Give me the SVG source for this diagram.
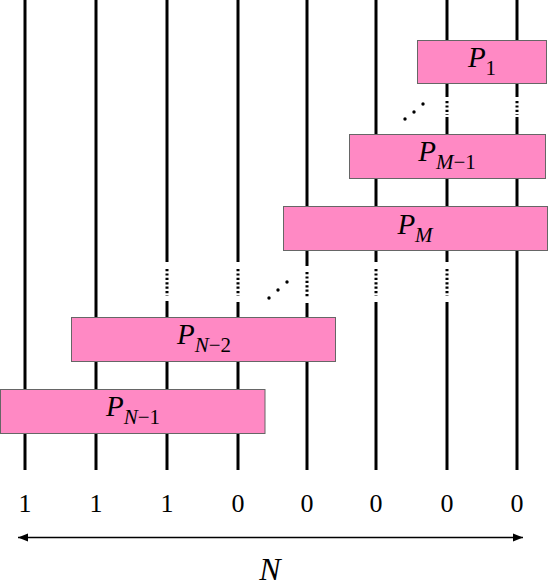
<svg xmlns="http://www.w3.org/2000/svg" width="548" height="587" viewBox="0 0 548 587">
<style>
.w{stroke:#000;stroke-width:3;fill:none}
.d{stroke:#000;stroke-width:3;fill:none;stroke-dasharray:2.2 2.2}
.box{fill:#ff89c4;stroke:#666;stroke-width:1}
.lbl{font-family:"Liberation Serif","Times New Roman",serif;font-size:29px;fill:#000;text-anchor:middle}
.it{font-style:italic}
.sub{font-size:21px}
.num{font-family:"Liberation Serif","Times New Roman",serif;font-size:26px;fill:#000;text-anchor:middle}
</style>
<defs>
<marker id="ah" markerUnits="userSpaceOnUse" markerWidth="12" markerHeight="10" refX="10" refY="5" orient="auto-start-reverse">
<path d="M0,1 L10,5 L0,9 Z" fill="#000"/>
</marker>
</defs>
<g id="wires">
<line class="w" x1="25" y1="0" x2="25" y2="470"/>
<line class="w" x1="96" y1="0" x2="96" y2="470"/>
<line class="w" x1="167" y1="0" x2="167" y2="262"/>
<line class="d" x1="167" y1="269" x2="167" y2="296"/>
<line class="w" x1="167" y1="301" x2="167" y2="470"/>
<line class="w" x1="238" y1="0" x2="238" y2="262"/>
<line class="d" x1="238" y1="269" x2="238" y2="296"/>
<line class="w" x1="238" y1="302" x2="238" y2="470"/>
<line class="w" x1="307" y1="0" x2="307" y2="266"/>
<line class="d" x1="307" y1="272" x2="307" y2="297"/>
<line class="w" x1="307" y1="303" x2="307" y2="470"/>
<line class="w" x1="376" y1="0" x2="376" y2="262"/>
<line class="d" x1="376" y1="269" x2="376" y2="296"/>
<line class="w" x1="376" y1="302" x2="376" y2="470"/>
<line class="w" x1="447" y1="0" x2="447" y2="97"/>
<line class="d" x1="447" y1="101" x2="447" y2="115"/>
<line class="w" x1="447" y1="117" x2="447" y2="262"/>
<line class="d" x1="447" y1="269" x2="447" y2="296"/>
<line class="w" x1="447" y1="302" x2="447" y2="470"/>
<line class="w" x1="517" y1="0" x2="517" y2="97"/>
<line class="d" x1="517" y1="101" x2="517" y2="115"/>
<line class="w" x1="517" y1="117" x2="517" y2="470"/>
<circle cx="405" cy="119" r="1.7"/>
<circle cx="414" cy="112" r="1.7"/>
<circle cx="423" cy="104" r="1.7"/>
<circle cx="269" cy="298" r="1.7"/>
<circle cx="278" cy="290" r="1.7"/>
<circle cx="287" cy="282" r="1.7"/>
</g>
<g id="P1">
<rect class="box" x="417.5" y="40.5" width="129" height="43"/>
<text class="lbl" x="482" y="67"><tspan class="it">P</tspan><tspan class="sub" dy="8">1</tspan></text>
</g>
<g id="PM-1">
<rect class="box" x="349.5" y="134.5" width="196" height="44"/>
<text class="lbl" x="447" y="161"><tspan class="it">P</tspan><tspan class="sub" dy="8"><tspan class="it">M</tspan>−1</tspan></text>
</g>
<g id="PM">
<rect class="box" x="283.5" y="206.5" width="264" height="44"/>
<text class="lbl" x="415" y="234"><tspan class="it">P</tspan><tspan class="sub it" dy="8">M</tspan></text>
</g>
<g id="PN-2">
<rect class="box" x="71.5" y="317.5" width="264" height="44"/>
<text class="lbl" x="204" y="344"><tspan class="it">P</tspan><tspan class="sub" dy="8"><tspan class="it">N</tspan>−2</tspan></text>
</g>
<g id="PN-1">
<rect class="box" x="0.5" y="389.5" width="264.5" height="44"/>
<text class="lbl" x="133" y="416"><tspan class="it">P</tspan><tspan class="sub" dy="8"><tspan class="it">N</tspan>−1</tspan></text>
</g>
<g id="bits">
<text class="num" x="25" y="512">1</text>
<text class="num" x="96" y="512">1</text>
<text class="num" x="167" y="512">1</text>
<text class="num" x="238" y="512">0</text>
<text class="num" x="307" y="512">0</text>
<text class="num" x="376" y="512">0</text>
<text class="num" x="447" y="512">0</text>
<text class="num" x="517" y="512">0</text>
</g>
<g id="connectors">
<line x1="18" y1="537.5" x2="523" y2="537.5" stroke="#000" stroke-width="1.6" marker-start="url(#ah)" marker-end="url(#ah)"/>
</g>
<g id="Nlabel">
<text class="num it" x="270" y="580" style="font-size:32px">N</text>
</g>
</svg>
